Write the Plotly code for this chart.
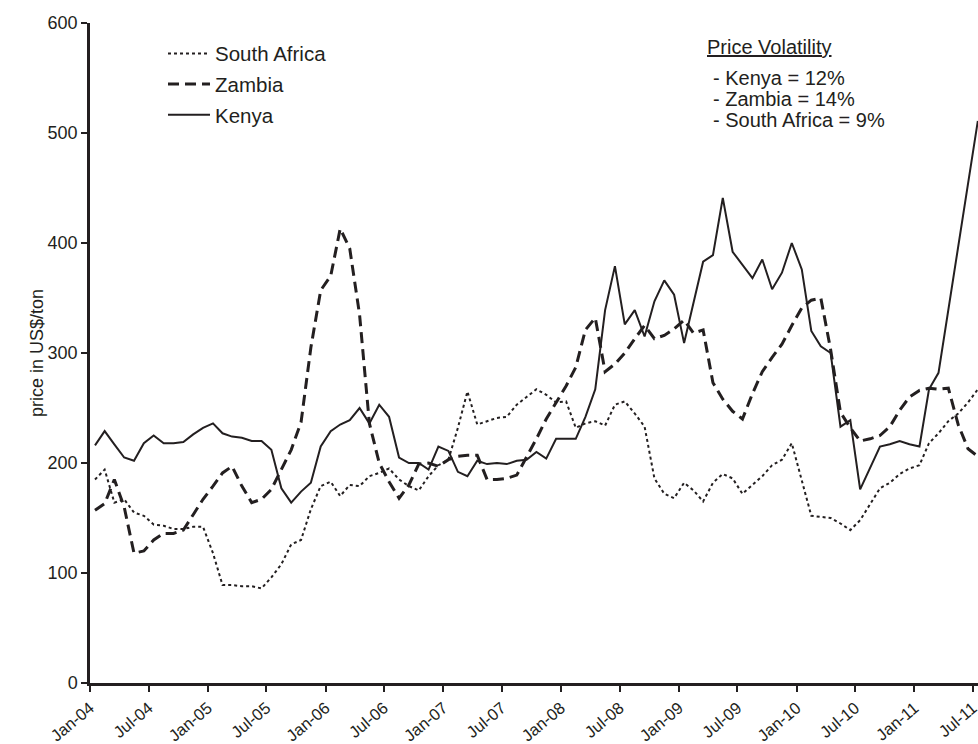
import pandas as pd
import plotly.graph_objects as go

months = pd.date_range("2004-01-01", periods=91, freq="MS")

south_africa = [185, 194, 164, 167, 155, 152, 144, 143, 140, 140, 142, 142,
                118, 89, 89, 88, 88, 86, 96, 108, 126, 130, 158, 179,
                183, 170, 180, 179, 188, 191, 195, 185, 179, 175, 188, 198,
                203, 232, 265, 235, 238, 241, 242, 253, 260, 267, 262, 255,
                256, 232, 236, 238, 234, 253, 256, 245, 233, 186, 172, 168,
                182, 175, 165, 182, 190, 186, 172, 180, 188, 198, 203, 218,
                185, 152, 151, 150, 145, 139, 148, 162, 177, 182, 190, 195,
                198, 218, 227, 238, 245, 255, 267]

zambia = [157, 163, 185, 160, 118, 120, 130, 136, 136, 139, 153, 167,
          179, 191, 197, 179, 164, 167, 176, 194, 212, 237, 305, 357,
          370, 413, 395, 335, 236, 200, 183, 168, 180, 199, 200, 197,
          203, 206, 207, 207, 185, 185, 186, 189, 205, 222, 240, 255,
          270, 287, 321, 332, 283, 290, 300, 313, 325, 313, 316, 322,
          330, 318, 321, 273, 258, 247, 240, 263, 283, 296, 308, 325,
          341, 348, 350, 303, 246, 232, 220, 222, 225, 233, 248, 260,
          266, 268, 267, 268, 235, 213, 206]

kenya = [216, 229, 217, 205, 202, 218, 225, 218, 218, 219, 226, 232,
         236, 227, 224, 223, 220, 220, 212, 177, 164, 174, 182, 215,
         229, 235, 239, 250, 236, 253, 242, 205, 200, 200, 194, 215,
         211, 192, 188, 202, 199, 200, 199, 202, 203, 210, 204, 222,
         222, 222, 242, 267, 339, 379, 326, 339, 315, 347, 366, 353,
         309, 346, 383, 389, 441, 392, 380, 368, 385, 358, 373, 400,
         376, 320, 306, 300, 233, 239, 176, 196, 215, 217, 220, 217,
         215, 267, 282, None, None, None, 511]

volatility_title = "Price Volatility"
volatility_lines = ["- Kenya = 12%", "- Zambia = 14%", "- South Africa = 9%"]

INK = "#231f20"
FONT = "Liberation Sans, Arial, Helvetica, sans-serif"

fig = go.Figure()
series = [
    ("South Africa", south_africa, dict(color=INK, width=2, dash="3px,3px")),
    ("Zambia", zambia, dict(color=INK, width=3, dash="11px,6px")),
    ("Kenya", kenya, dict(color=INK, width=2)),
]
for name, vals, line in series:
    fig.add_trace(go.Scatter(
        x=months, y=vals, name=name, mode="lines", line=line,
        xperiod="M1", xperiodalignment="middle", connectgaps=True,
        legendgroup=name,
    ))

fig.update_layout(
    width=978, height=744,
    margin=dict(l=90, r=0, t=23, b=61),
    plot_bgcolor="white", paper_bgcolor="white",
    font=dict(family=FONT, size=18, color=INK),
    showlegend=True,
    legend=dict(
        x=0.0822, y=0.984, xanchor="left", yanchor="top",
        font=dict(size=20.5, color=INK),
        bgcolor="rgba(0,0,0,0)", traceorder="grouped", tracegroupgap=1,
        itemwidth=42,
    ),
)

fig.update_xaxes(
    type="date", range=["2004-01-01", "2011-07-17"],
    tick0="2004-01-01", dtick="M6", tickformat="%b-%y", tickangle=-40,
    ticks="outside", ticklen=6, tickwidth=1.5, tickcolor=INK,
    showline=True, linewidth=3, linecolor=INK, showgrid=False, zeroline=False,
    tickfont=dict(size=16.5, color=INK), automargin=False,
    ticklabeloverflow="allow",
)
fig.update_yaxes(
    range=[0, 600], dtick=100, tick0=0,
    ticks="outside", ticklen=6, tickwidth=1.5, tickcolor=INK,
    showline=True, linewidth=2.5, linecolor=INK, showgrid=False, zeroline=False,
    tickfont=dict(size=18, color=INK), automargin=False,
    title=dict(text="price in US$/ton", font=dict(size=18, color=INK), standoff=0),
)

fig.add_annotation(
    text=volatility_title, xref="paper", yref="paper", x=0.6926, y=0.964,
    xanchor="left", yanchor="middle", showarrow=False,
    font=dict(size=20, color=INK, lineposition="under"),
)
for i, t in enumerate(volatility_lines):
    fig.add_annotation(
        text=t, xref="paper", yref="paper", x=0.6993, y=0.9167 - i * 0.0315,
        xanchor="left", yanchor="middle", showarrow=False,
        font=dict(size=20, color=INK),
    )

fig.write_html(
    "out.html",
    config={"displayModeBar": False},
    post_script="document.body.style.margin='0';document.body.style.overflow='hidden';",
)
